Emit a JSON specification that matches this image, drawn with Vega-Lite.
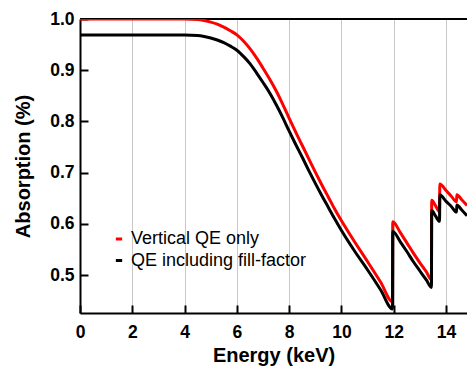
{
  "$schema": "https://vega.github.io/schema/vega-lite/v6.json",
  "autosize": {"type": "none"},
  "padding": {"left": 80, "top": 19, "right": 0, "bottom": 56},
  "width": 387,
  "height": 294,
  "background": "white",
  "config": {
    "view": {"stroke": null},
    "font": "Liberation Sans",
    "axis": {
      "labelFont": "Liberation Sans",
      "labelFontWeight": "bold",
      "labelFontSize": 17.5,
      "labelColor": "black",
      "titleFont": "Liberation Sans",
      "titleFontWeight": "bold",
      "titleFontSize": 20,
      "titleColor": "black",
      "domainColor": "black",
      "domainWidth": 2,
      "tickColor": "black",
      "tickWidth": 2,
      "tickSize": -8,
      "gridColor": "#c8c8c8",
      "gridWidth": 1
    }
  },
  "data": {"values": [
    {"E": 0, "A": 1.000, "s": "Vertical QE only"},
    {"E": 1, "A": 1.000, "s": "Vertical QE only"},
    {"E": 2, "A": 1.000, "s": "Vertical QE only"},
    {"E": 3, "A": 1.000, "s": "Vertical QE only"},
    {"E": 4, "A": 1.000, "s": "Vertical QE only"},
    {"E": 4.5, "A": 0.999, "s": "Vertical QE only"},
    {"E": 4.75, "A": 0.997, "s": "Vertical QE only"},
    {"E": 5.0, "A": 0.994, "s": "Vertical QE only"},
    {"E": 5.25, "A": 0.990, "s": "Vertical QE only"},
    {"E": 5.5, "A": 0.984, "s": "Vertical QE only"},
    {"E": 5.75, "A": 0.977, "s": "Vertical QE only"},
    {"E": 6.0, "A": 0.969, "s": "Vertical QE only"},
    {"E": 6.25, "A": 0.957, "s": "Vertical QE only"},
    {"E": 6.5, "A": 0.942, "s": "Vertical QE only"},
    {"E": 6.75, "A": 0.924, "s": "Vertical QE only"},
    {"E": 7.0, "A": 0.904, "s": "Vertical QE only"},
    {"E": 7.25, "A": 0.883, "s": "Vertical QE only"},
    {"E": 7.5, "A": 0.860, "s": "Vertical QE only"},
    {"E": 7.75, "A": 0.834, "s": "Vertical QE only"},
    {"E": 8.0, "A": 0.806, "s": "Vertical QE only"},
    {"E": 8.25, "A": 0.779, "s": "Vertical QE only"},
    {"E": 8.5, "A": 0.753, "s": "Vertical QE only"},
    {"E": 8.75, "A": 0.727, "s": "Vertical QE only"},
    {"E": 9.0, "A": 0.701, "s": "Vertical QE only"},
    {"E": 9.25, "A": 0.676, "s": "Vertical QE only"},
    {"E": 9.5, "A": 0.652, "s": "Vertical QE only"},
    {"E": 9.75, "A": 0.628, "s": "Vertical QE only"},
    {"E": 10.0, "A": 0.606, "s": "Vertical QE only"},
    {"E": 10.5, "A": 0.565, "s": "Vertical QE only"},
    {"E": 11.0, "A": 0.526, "s": "Vertical QE only"},
    {"E": 11.5, "A": 0.486, "s": "Vertical QE only"},
    {"E": 11.95, "A": 0.448, "s": "Vertical QE only"},
    {"E": 11.96, "A": 0.604, "s": "Vertical QE only"},
    {"E": 12.25, "A": 0.583, "s": "Vertical QE only"},
    {"E": 12.5, "A": 0.563, "s": "Vertical QE only"},
    {"E": 12.75, "A": 0.543, "s": "Vertical QE only"},
    {"E": 13.0, "A": 0.524, "s": "Vertical QE only"},
    {"E": 13.25, "A": 0.506, "s": "Vertical QE only"},
    {"E": 13.44, "A": 0.491, "s": "Vertical QE only"},
    {"E": 13.45, "A": 0.646, "s": "Vertical QE only"},
    {"E": 13.6, "A": 0.635, "s": "Vertical QE only"},
    {"E": 13.75, "A": 0.624, "s": "Vertical QE only"},
    {"E": 13.76, "A": 0.678, "s": "Vertical QE only"},
    {"E": 14.0, "A": 0.665, "s": "Vertical QE only"},
    {"E": 14.2, "A": 0.654, "s": "Vertical QE only"},
    {"E": 14.4, "A": 0.643, "s": "Vertical QE only"},
    {"E": 14.41, "A": 0.657, "s": "Vertical QE only"},
    {"E": 14.6, "A": 0.647, "s": "Vertical QE only"},
    {"E": 14.8, "A": 0.636, "s": "Vertical QE only"},
    {"E": 0, "A": 0.969, "s": "QE including fill-factor"},
    {"E": 1, "A": 0.969, "s": "QE including fill-factor"},
    {"E": 2, "A": 0.969, "s": "QE including fill-factor"},
    {"E": 3, "A": 0.969, "s": "QE including fill-factor"},
    {"E": 4, "A": 0.969, "s": "QE including fill-factor"},
    {"E": 4.5, "A": 0.968, "s": "QE including fill-factor"},
    {"E": 4.75, "A": 0.966, "s": "QE including fill-factor"},
    {"E": 5.0, "A": 0.963, "s": "QE including fill-factor"},
    {"E": 5.25, "A": 0.959, "s": "QE including fill-factor"},
    {"E": 5.5, "A": 0.954, "s": "QE including fill-factor"},
    {"E": 5.75, "A": 0.947, "s": "QE including fill-factor"},
    {"E": 6.0, "A": 0.939, "s": "QE including fill-factor"},
    {"E": 6.25, "A": 0.927, "s": "QE including fill-factor"},
    {"E": 6.5, "A": 0.913, "s": "QE including fill-factor"},
    {"E": 6.75, "A": 0.895, "s": "QE including fill-factor"},
    {"E": 7.0, "A": 0.876, "s": "QE including fill-factor"},
    {"E": 7.25, "A": 0.856, "s": "QE including fill-factor"},
    {"E": 7.5, "A": 0.833, "s": "QE including fill-factor"},
    {"E": 7.75, "A": 0.808, "s": "QE including fill-factor"},
    {"E": 8.0, "A": 0.781, "s": "QE including fill-factor"},
    {"E": 8.25, "A": 0.755, "s": "QE including fill-factor"},
    {"E": 8.5, "A": 0.730, "s": "QE including fill-factor"},
    {"E": 8.75, "A": 0.704, "s": "QE including fill-factor"},
    {"E": 9.0, "A": 0.679, "s": "QE including fill-factor"},
    {"E": 9.25, "A": 0.655, "s": "QE including fill-factor"},
    {"E": 9.5, "A": 0.632, "s": "QE including fill-factor"},
    {"E": 9.75, "A": 0.609, "s": "QE including fill-factor"},
    {"E": 10.0, "A": 0.587, "s": "QE including fill-factor"},
    {"E": 10.5, "A": 0.547, "s": "QE including fill-factor"},
    {"E": 11.0, "A": 0.510, "s": "QE including fill-factor"},
    {"E": 11.5, "A": 0.471, "s": "QE including fill-factor"},
    {"E": 11.95, "A": 0.434, "s": "QE including fill-factor"},
    {"E": 11.96, "A": 0.585, "s": "QE including fill-factor"},
    {"E": 12.25, "A": 0.565, "s": "QE including fill-factor"},
    {"E": 12.5, "A": 0.546, "s": "QE including fill-factor"},
    {"E": 12.75, "A": 0.526, "s": "QE including fill-factor"},
    {"E": 13.0, "A": 0.508, "s": "QE including fill-factor"},
    {"E": 13.25, "A": 0.490, "s": "QE including fill-factor"},
    {"E": 13.44, "A": 0.476, "s": "QE including fill-factor"},
    {"E": 13.45, "A": 0.626, "s": "QE including fill-factor"},
    {"E": 13.6, "A": 0.615, "s": "QE including fill-factor"},
    {"E": 13.75, "A": 0.605, "s": "QE including fill-factor"},
    {"E": 13.76, "A": 0.657, "s": "QE including fill-factor"},
    {"E": 14.0, "A": 0.644, "s": "QE including fill-factor"},
    {"E": 14.2, "A": 0.634, "s": "QE including fill-factor"},
    {"E": 14.4, "A": 0.623, "s": "QE including fill-factor"},
    {"E": 14.41, "A": 0.637, "s": "QE including fill-factor"},
    {"E": 14.6, "A": 0.627, "s": "QE including fill-factor"},
    {"E": 14.8, "A": 0.616, "s": "QE including fill-factor"}
  ]},
  "layer": [
    {
      "mark": {"type": "rule", "color": "black", "strokeWidth": 2},
      "encoding": {"y": {"datum": 1.0, "type": "quantitative"}}
    },
    {
      "mark": {"type": "line", "strokeWidth": 3, "clip": true, "interpolate": "monotone"},
      "encoding": {
        "x": {
          "field": "E", "type": "quantitative",
          "scale": {"domain": [0, 14.8], "nice": false, "zero": false},
          "axis": {"values": [0, 2, 4, 6, 8, 10, 12, 14], "title": "Energy (keV)", "labelPadding": 18, "titlePadding": 5, "labelFlush": false, "format": "d"}
        },
        "y": {
          "field": "A", "type": "quantitative",
          "scale": {"domain": [0.426, 1.0], "nice": false, "zero": false},
          "axis": {"values": [0.5, 0.6, 0.7, 0.8, 0.9, 1.0], "title": "Absorption (%)", "labelPadding": 14, "titlePadding": 16, "labelFlush": false, "format": ".1f"}
        },
        "color": {
          "field": "s", "type": "nominal",
          "scale": {"domain": ["Vertical QE only", "QE including fill-factor"], "range": ["#ff0000", "#000000"]},
          "legend": {
            "title": null,
            "orient": "none",
            "legendX": 30,
            "legendY": 211,
            "padding": 0,
            "symbolType": "stroke",
            "symbolSize": 40,
            "symbolStrokeWidth": 3,
            "labelFont": "Liberation Sans",
            "labelFontSize": 18,
            "labelColor": "black",
            "labelOffset": 3,
            "labelLimit": 400,
            "rowPadding": 3.5
          }
        }
      }
    }
  ]
}
